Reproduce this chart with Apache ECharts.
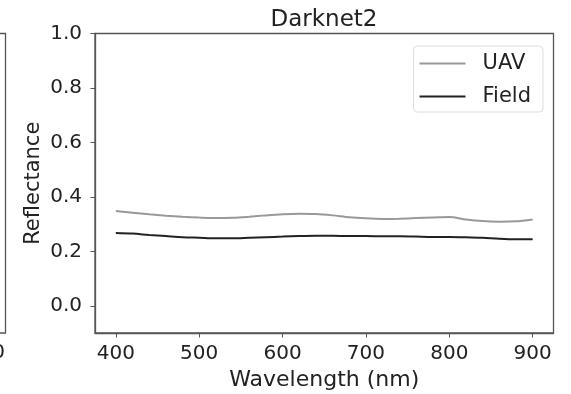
<!DOCTYPE html>
<html>
<head>
<meta charset="utf-8">
<script src="https://cdn.jsdelivr.net/npm/echarts@6/dist/echarts.min.js"></script>
<style>
html,body{margin:0;padding:0;background:#fff;}
#c{width:571px;height:394px;}
</style>
</head>
<body>
<div id="c"></div>
<script>
var wavelengths = [400,420,440,460,480,500,520,540,560,580,600,620,640,660,680,700,720,740,760,780,800,820,840,860,880,900];
var uav = [0.348,0.342,0.336,0.331,0.327,0.324,0.322,0.323,0.327,0.332,0.336,0.338,0.337,0.332,0.325,0.321,0.319,0.320,0.322,0.324,0.326,0.317,0.311,0.309,0.310,0.317];
var field = [0.267,0.265,0.260,0.256,0.252,0.250,0.248,0.248,0.250,0.252,0.254,0.256,0.257,0.257,0.256,0.256,0.255,0.255,0.254,0.253,0.253,0.252,0.250,0.246,0.244,0.244];
var xTicks = [400,500,600,700,800,900];
var yTicks = [0.0,0.2,0.4,0.6,0.8,1.0];
var title = 'Darknet2';
var neighbourLastTick = '900';

function pairs(xs, ys){ return xs.map(function(x,i){ return [x, ys[i]]; }); }

var font = 'DejaVu Sans';
var chart = echarts.init(document.getElementById('c'), null, {renderer:'canvas'});
chart.setOption({
  animation:false,
  backgroundColor:'#fff',
  title:{text:title, left:319, textAlign:'center', top:4,
    textStyle:{fontFamily:font, fontSize:23, fontWeight:'normal', color:'#222'}},
  legend:{orient:'vertical', right:28, top:46, icon:'rect', itemWidth:46, itemHeight:2, itemGap:12,
    padding:[7,12,5,6], borderColor:'#ddd', borderWidth:1, borderRadius:4,
    textStyle:{fontFamily:font, fontSize:21, color:'#222', padding:[0,0,0,12]},
    data:['UAV','Field']},
  grid:{left:95, right:17.5, top:33.5, bottom:61, show:true, borderColor:'#555', borderWidth:1.3,
    containLabel:false, outerBoundsMode:'none'},
  graphic:[
    {type:'polyline', silent:true, shape:{points:[[-10,33.5],[5.5,33.5],[5.5,333],[-10,333]]},
      style:{stroke:'#555', lineWidth:1.3, fill:null}},
    {type:'text', silent:true, x:5, y:343,
      style:{text:neighbourLastTick, fontFamily:font, fontSize:20, fill:'#222', align:'right', verticalAlign:'top'}}
  ],
  xAxis:{type:'value', min:375, max:925,
      name:'Wavelength (nm)', nameLocation:'middle', nameGap:36, nameMoveOverlap:false,
      nameTextStyle:{fontFamily:font, fontSize:22, color:'#222'},
      axisLine:{show:true, onZero:false, lineStyle:{color:'#555', width:1.3}},
      axisTick:{show:true, customValues:xTicks, length:4.5, lineStyle:{color:'#555'}},
      axisLabel:{customValues:xTicks, fontFamily:font, fontSize:20, color:'#222', margin:11},
      splitLine:{show:false}},
  yAxis:{type:'value', min:-0.1, max:1.0,
      name:'Reflectance', nameLocation:'middle', nameGap:51, nameMoveOverlap:false,
      nameTextStyle:{fontFamily:font, fontSize:21, color:'#222'},
      axisLine:{show:true, onZero:false, lineStyle:{color:'#555', width:1.3}},
      axisTick:{show:true, customValues:yTicks, length:4.5, lineStyle:{color:'#555'}},
      axisLabel:{customValues:yTicks, fontFamily:font, fontSize:20, color:'#222', margin:13,
        formatter:function(v){ return v.toFixed(1); }},
      splitLine:{show:false}},
  series:[
    {name:'UAV', type:'line', data:pairs(wavelengths, uav),
      smooth:0.3, symbol:'none', lineStyle:{color:'#999', width:2}, itemStyle:{color:'#999'}},
    {name:'Field', type:'line', data:pairs(wavelengths, field),
      smooth:0.3, symbol:'none', lineStyle:{color:'#222', width:2}, itemStyle:{color:'#222'}}
  ]
});
</script>
</body>
</html>
